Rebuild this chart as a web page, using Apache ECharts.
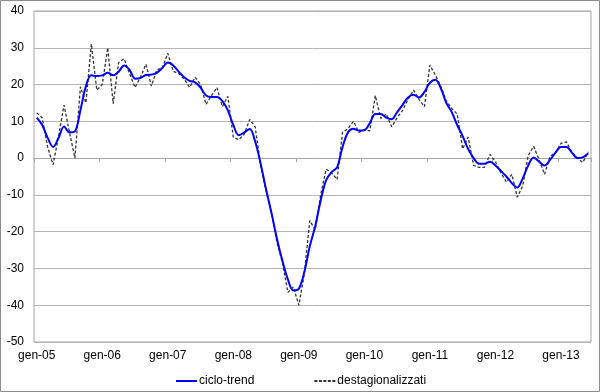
<!DOCTYPE html>
<html>
<head>
<meta charset="utf-8">
<script src="https://cdn.jsdelivr.net/npm/echarts@6/dist/echarts.min.js"></script>
<style>
body { margin: 0; background: #fff; }
#chartmain { width: 600px; height: 392px; }
</style>
</head>
<body>
<div id="chartmain"></div>
<script>
// mesi e anni dell'asse
var mesi = ['gen', 'feb', 'mar', 'apr', 'mag', 'giu', 'lug', 'ago', 'set', 'ott', 'nov', 'dic'];
var anni = ['05', '06', '07', '08', '09', '10', '11', '12', '13'];
var nMesi = 102; // gen-05 .. giu-13

// ciclo-trend
var cicloTrend = [
	11, 9, 5.5, 3, 5.5, 8.6, 7, 7.3, 13, 19.5, 22.5, 22.3,
	22.5, 23.2, 22.5, 23.5, 25.2, 24, 21.6, 21.8, 22.6, 22.7, 23.2, 24.5,
	26, 25.2, 23.5, 22, 21, 20.6, 19.2, 17, 16.6, 16.6, 15.5, 13,
	9, 6.2, 7, 7.9, 4.5, -1.5, -8.5, -15, -22, -28, -33, -36,
	-35.5, -31, -24, -18.5, -11.5, -6, -3.8, -2.5, 3, 7, 8, 7.5,
	7.6, 9.5, 12, 12, 11, 10.6, 12.5, 14.5, 16.5, 17.2, 16.5, 18,
	20.5, 21.3, 19, 15, 12.5, 9, 6, 2.5, 0, -1.5, -1.5, -1,
	-2, -3.5, -5, -6.8, -8, -5.5, -2, 0.2, -1, -2, -0.5, 1.5,
	3, 3, 1.5, 0, 0.2, 1.3
];

// destagionalizzati
var destag = [
	12.3, 11, 3, -1.8, 6, 14.4, 7, 0, 19.4, 15, 31, 18.5,
	20, 30, 14.8, 26, 27, 23, 19.2, 22, 25.5, 19.6, 24, 24.5,
	28.5, 23.6, 23, 21.5, 19.2, 22, 20, 14.6, 17, 19.2, 14, 16.8,
	5.7, 5, 6.5, 10.5, 8.5, -2, -9, -15, -23, -28.5, -36.5, -35,
	-40, -31.5, -17, -19.5, -10, -3, -4, -5.8, 7, 8, 10, 7,
	7.8, 7.4, 17, 10.8, 12, 8.5, 11, 13, 16, 18.5, 16, 14,
	25.3, 22.6, 19.5, 15.5, 13.5, 12, 2.5, 5.7, -2, -2.5, -2.5, 1,
	-1, -4, -6.5, -4.4, -10.6, -7.5, 0.7, 3.2, -0.5, -4.4, 0.5, 1.5,
	4, 4.4, 1.6, 0, -1.2, 1.7
];

var categorie = [];
for (var i = 0; i < nMesi; i++) {
	categorie.push(mesi[i % 12] + '-' + anni[Math.floor(i / 12)]);
}

var font = 'Arial, "Liberation Sans", sans-serif';

// icone della legenda: linea piena e linea tratteggiata
var iconaLinea = 'path://M0,0h21v2h-21z';
var iconaTratteggio = 'path://M0,0h3v2h-3zM4.5,0h3v2h-3zM9,0h3v2h-3zM13.5,0h3v2h-3zM18,0h3v2h-3z';

var option = {
	animation : false,
	textStyle : { fontFamily : font },
	graphic : [ {
		type : 'rect',
		shape : { x : 0.5, y : 0.5, width : 599, height : 391 },
		style : { fill : 'none', stroke : '#8c8c8c', lineWidth : 1 },
		silent : true
	} ],
	grid : {
		left : 34,
		right : 9,
		top : 11,
		bottom : 50,
		show : true,
		borderColor : '#a6a6a6',
		borderWidth : 1
	},
	legend : {
		left : 171,
		top : 370,
		itemWidth : 21,
		itemHeight : 2,
		itemGap : 60,
		textStyle : { fontSize : 12, color : '#000', fontFamily : font, padding : [ 0, 0, 0, -3 ] },
		data : [
			{ name : 'ciclo-trend', icon : iconaLinea },
			{ name : 'destagionalizzati', icon : iconaTratteggio }
		]
	},
	xAxis : [ {
		type : 'category',
		data : categorie,
		boundaryGap : true,
		position : 'bottom',
		axisLine : { onZero : false, show : false },
		axisTick : { show : false },
		axisLabel : {
			interval : 11,
			margin : 8,
			fontSize : 12,
			color : '#000',
			fontFamily : font
		},
		splitLine : { show : false }
	}, {
		type : 'category',
		data : categorie,
		boundaryGap : true,
		gridIndex : 0,
		position : 'bottom',
		axisLine : { onZero : true, lineStyle : { color : '#a6a6a6', width : 1 } },
		axisTick : { show : true, interval : 11, length : 4, lineStyle : { color : '#a6a6a6' } },
		axisLabel : { show : false },
		splitLine : { show : false }
	} ],
	yAxis : {
		type : 'value',
		min : -50,
		max : 40,
		interval : 10,
		axisLine : { show : false },
		axisTick : { show : false },
		axisLabel : {
			margin : 10,
			fontSize : 12,
			color : '#000',
			fontFamily : font
		},
		splitLine : { lineStyle : { color : '#b4b4b4', width : 1 } }
	},
	series : [ {
		name : 'ciclo-trend',
		type : 'line',
		xAxisIndex : 0,
		data : cicloTrend,
		smooth : 0.35,
		symbol : 'none',
		z : 3,
		lineStyle : { color : '#0000ff', width : 2 },
		itemStyle : { color : '#0000ff' }
	}, {
		name : 'destagionalizzati',
		type : 'line',
		xAxisIndex : 0,
		data : destag,
		symbol : 'none',
		z : 2,
		lineStyle : { color : '#333333', width : 1.3, type : [ 3, 2 ] },
		itemStyle : { color : '#333333' }
	} ]
};

var myChart = echarts.init(document.getElementById('chartmain'));
myChart.setOption(option);
</script>
</body>
</html>
